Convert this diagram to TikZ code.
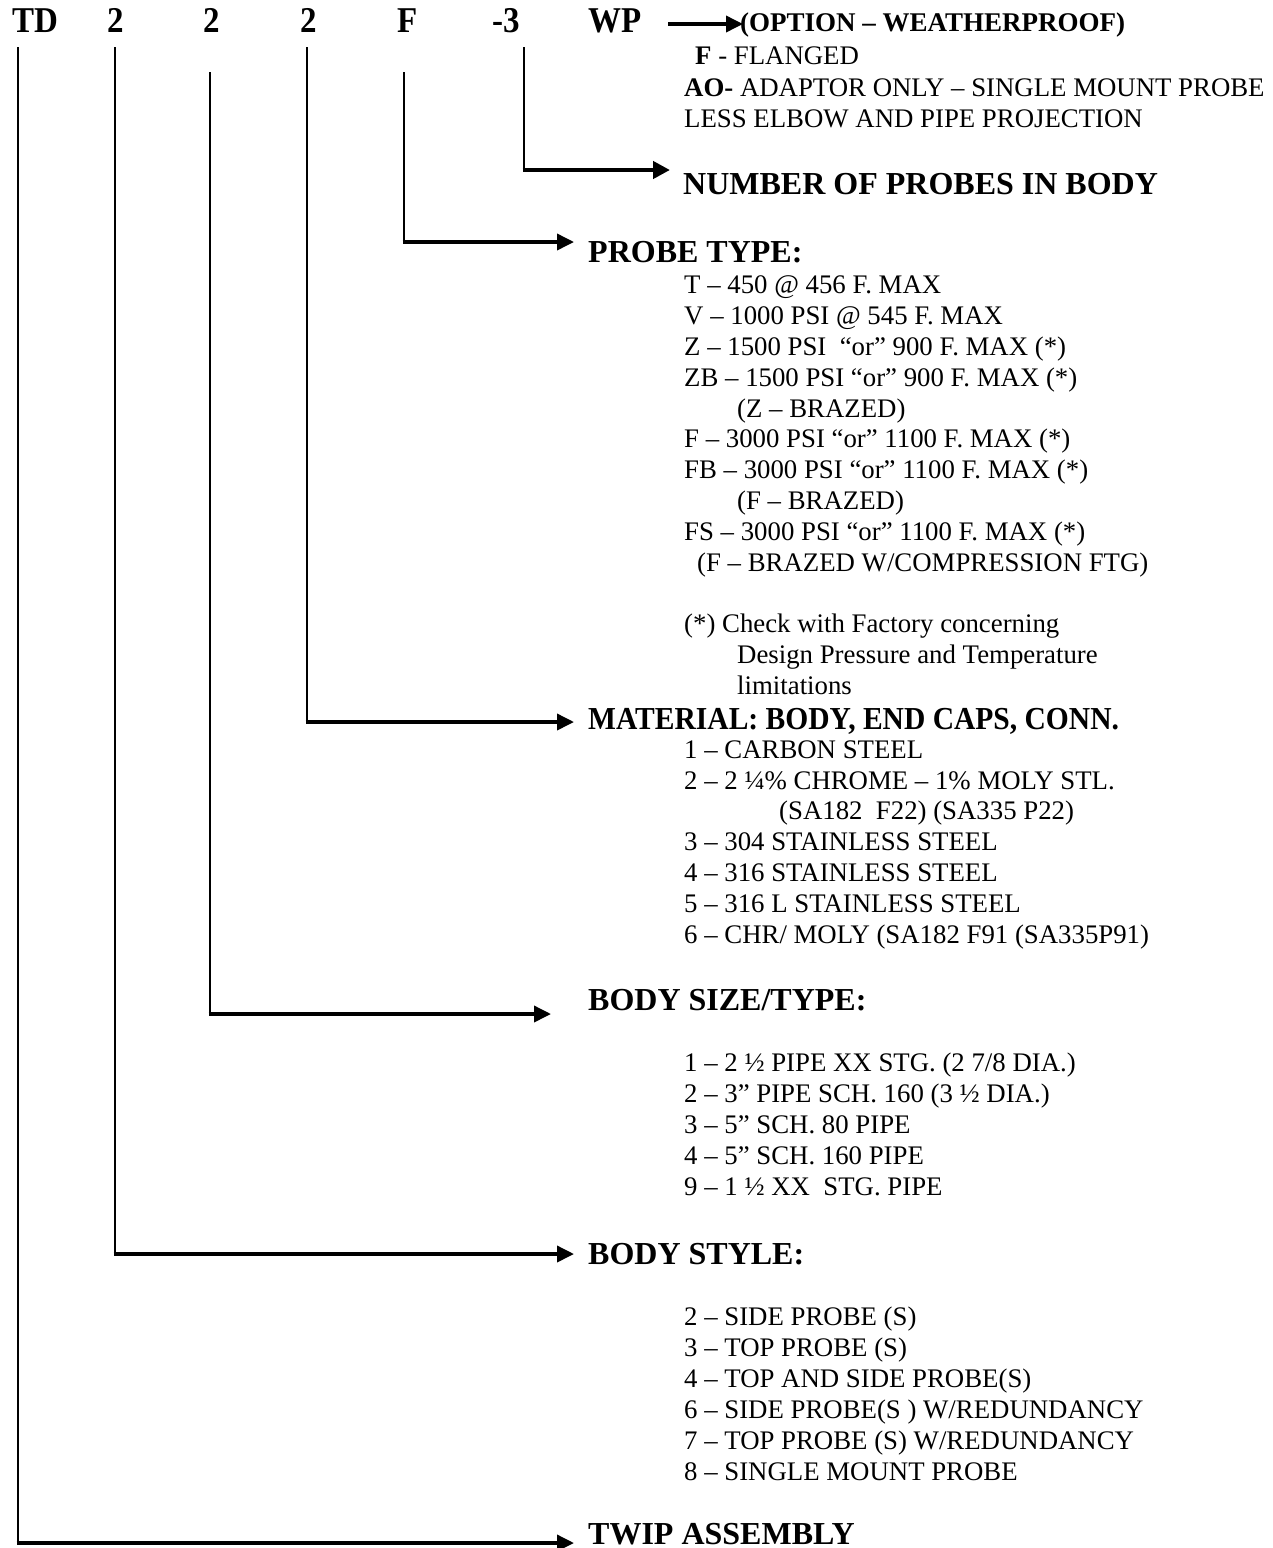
\documentclass[tikz,border=0pt]{standalone}
\usepackage{fontspec}
\setmainfont{Liberation Serif}
\usetikzlibrary{arrows.meta}
\newcommand{\tallcode}[1]{\scalebox{1}[1.1]{#1}}
\newcommand{\narrowhead}[1]{\scalebox{0.923}[1]{#1}}
\begin{document}
\begin{tikzpicture}[x=1pt,y=-1pt,
  code/.style={font=\fontsize{33}{33}\selectfont\bfseries, anchor=base west, inner sep=0},
  head/.style={font=\fontsize{32}{32}\selectfont\bfseries, anchor=base west, inner sep=0},
  opt/.style={font=\fontsize{27}{27}\selectfont\bfseries, anchor=base west, inner sep=0},
  item/.style={font=\fontsize{26.8}{26.8}\selectfont, anchor=base west, inner sep=0},
  vline/.style={line width=2.7pt},
  arr/.style={line width=3.6pt, -{Triangle[length=17pt,width=16pt]}},
  thickarr/.style={line width=4.6pt, -{Triangle[length=17pt,width=17pt]}},
]
\useasboundingbox (0,0) rectangle (1273,1548);

% code row
\node[code] (cTD) at (12,32) {\tallcode{TD}};
\node[code] (c2a) at (107,32) {\tallcode{2}};
\node[code] (c2b) at (203,32) {\tallcode{2}};
\node[code] (c2c) at (300,32) {\tallcode{2}};
\node[code] (cF)  at (397,32) {\tallcode{F}};
\node[code] (c3)  at (492,32) {\tallcode{-3}};
\node[code] (cWP) at (588,32) {\tallcode{WP}};

% line starts
\coordinate (sTD) at (18,47);
\coordinate (s2a) at (115,47);
\coordinate (s2b) at (210,72);
\coordinate (s2c) at (307,47);
\coordinate (sF)  at (404,72);
\coordinate (s3)  at (524,47);
\coordinate (sWP) at (668,24);

% arrow ends
\coordinate (eWP) at (743,24);
\coordinate (e3)  at (670,170);
\coordinate (eF)  at (574,242);
\coordinate (e2c) at (574,722);
\coordinate (e2b) at (551,1014);
\coordinate (e2a) at (574,1254);
\coordinate (eTD) at (574,1543);

% option
\node[opt] (hOPT) at (740,31) {(OPTION – WEATHERPROOF)};
\node[item] (o1) at (695,64) {\textbf{F} - FLANGED};
\node[item] (o2) at (684,96) {\textbf{AO-} ADAPTOR ONLY – SINGLE MOUNT PROBE};
\node[item] (o3) at (684,127) {LESS ELBOW AND PIPE PROJECTION};

% number of probes
\node[head] (hNUM) at (683,194) {NUMBER OF PROBES IN BODY};

% probe type
\node[head] (hPT) at (588,262) {PROBE TYPE:};
\node[item] at (684,293) {T – 450 @ 456 F. MAX};
\node[item] at (684,324) {V – 1000 PSI @ 545 F. MAX};
\node[item] at (684,355) {Z – 1500 PSI\ \ “or” 900 F. MAX (*)};
\node[item] at (684,386) {ZB – 1500 PSI “or” 900 F. MAX (*)};
\node[item] at (737,417) {(Z – BRAZED)};
\node[item] at (684,447) {F – 3000 PSI “or” 1100 F. MAX (*)};
\node[item] at (684,478) {FB – 3000 PSI “or” 1100 F. MAX (*)};
\node[item] at (737,509) {(F – BRAZED)};
\node[item] at (684,540) {FS – 3000 PSI “or” 1100 F. MAX (*)};
\node[item] at (697,571) {(F – BRAZED W/COMPRESSION FTG)};
\node[item] at (684,632) {(*) Check with Factory concerning};
\node[item] at (737,663) {Design Pressure and Temperature};
\node[item] at (737,694) {limitations};

% material
\node[head] (hMAT) at (588,729) {\narrowhead{MATERIAL: BODY, END CAPS, CONN.}};
\node[item] at (684,758) {1 – CARBON STEEL};
\node[item] at (684,789) {2 – 2 ¼\% CHROME – 1\% MOLY STL.};
\node[item] at (779,819) {(SA182\ \ F22) (SA335 P22)};
\node[item] at (684,850) {3 – 304 STAINLESS STEEL};
\node[item] at (684,881) {4 – 316 STAINLESS STEEL};
\node[item] at (684,912) {5 – 316 L STAINLESS STEEL};
\node[item] at (684,943) {6 – CHR/ MOLY (SA182 F91 (SA335P91)};

% body size
\node[head] (hBS) at (588,1010) {BODY SIZE/TYPE:};
\node[item] at (684,1071) {1 – 2 ½ PIPE XX STG. (2 7/8 DIA.)};
\node[item] at (684,1102) {2 – 3” PIPE SCH. 160 (3 ½ DIA.)};
\node[item] at (684,1133) {3 – 5” SCH. 80 PIPE};
\node[item] at (684,1164) {4 – 5” SCH. 160 PIPE};
\node[item] at (684,1195) {9 – 1 ½ XX\ \ STG. PIPE};

% body style
\node[head] (hSTY) at (588,1264) {BODY STYLE:};
\node[item] at (684,1325) {2 – SIDE PROBE (S)};
\node[item] at (684,1356) {3 – TOP PROBE (S)};
\node[item] at (684,1387) {4 – TOP AND SIDE PROBE(S)};
\node[item] at (684,1418) {6 – SIDE PROBE(S ) W/REDUNDANCY};
\node[item] at (684,1449) {7 – TOP PROBE (S) W/REDUNDANCY};
\node[item] at (684,1480) {8 – SINGLE MOUNT PROBE};

% twip
\node[head] (hTW) at (588,1544) {TWIP ASSEMBLY};

% connectors
\draw[arr] (sWP) -- (eWP);
\draw[vline] (s3) -- (s3 |- e3);
\draw[thickarr] ([xshift=-1.35pt]s3 |- e3) -- (e3);
\draw[vline] (sF) -- (sF |- eF);
\draw[arr] ([xshift=-1.35pt]sF |- eF) -- (eF);
\draw[vline] (s2c) -- (s2c |- e2c);
\draw[arr] ([xshift=-1.35pt]s2c |- e2c) -- (e2c);
\draw[vline] (s2b) -- (s2b |- e2b);
\draw[arr] ([xshift=-1.35pt]s2b |- e2b) -- (e2b);
\draw[vline] (s2a) -- (s2a |- e2a);
\draw[arr] ([xshift=-1.35pt]s2a |- e2a) -- (e2a);
\draw[vline] (sTD) -- (sTD |- eTD);
\draw[arr] ([xshift=-1.35pt]sTD |- eTD) -- (eTD);
\end{tikzpicture}
\end{document}
